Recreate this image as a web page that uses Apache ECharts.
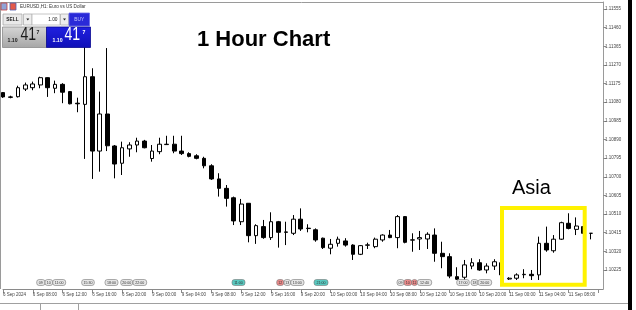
<!DOCTYPE html>
<html><head><meta charset="utf-8">
<script src="https://cdn.jsdelivr.net/npm/echarts@6/dist/echarts.min.js"></script>
<style>html,body{margin:0;padding:0;background:#fff}#c{width:636px;height:310px}</style>
</head><body><div id="c"></div>
<script>
// hourly trading sessions (day, first hour, last hour); last category left empty (chart shift)
const sessions = [['6 Sep', 4, 23], ['9 Sep', 0, 23], ['10 Sep', 0, 23], ['11 Sep', 0, 12]];
const categories = [];
sessions.forEach(([d, a, b]) => { for (let h = a; h <= b; h++) categories.push(d + ' ' + String(h).padStart(2, '0') + ':00'); });

// [open, close, low, high]
const candles = [
[1.11129,1.11107,1.11102,1.11132],
[1.11107,1.11105,1.11100,1.11113],
[1.11108,1.11154,1.11104,1.11164],
[1.11147,1.11168,1.11137,1.11180],
[1.11154,1.11173,1.11141,1.11185],
[1.11168,1.11205,1.11151,1.11210],
[1.11205,1.11154,1.11107,1.11207],
[1.11151,1.11171,1.11126,1.11190],
[1.11171,1.11131,1.11075,1.11177],
[1.11134,1.11072,1.11069,1.11137],
[1.11075,1.11072,1.11029,1.11103],
[1.11069,1.11210,1.10791,1.11372],
[1.11210,1.10831,1.10689,1.11253],
[1.10831,1.11020,1.10726,1.11134],
[1.11020,1.10858,1.10831,1.11356],
[1.10857,1.10765,1.10692,1.10862],
[1.10769,1.10848,1.10709,1.10879],
[1.10842,1.10862,1.10802,1.10876],
[1.10862,1.10882,1.10825,1.10899],
[1.10882,1.10848,1.10845,1.10888],
[1.10793,1.10831,1.10777,1.10862],
[1.10828,1.10866,1.10815,1.10899],
[1.10864,1.10866,1.10862,1.10909],
[1.10866,1.10831,1.10820,1.10909],
[1.10831,1.10818,1.10811,1.10909],
[1.10818,1.10804,1.10799,1.10825],
[1.10807,1.10794,1.10789,1.10815],
[1.10794,1.10756,1.10743,1.10802],
[1.10756,1.10689,1.10684,1.10764],
[1.10689,1.10641,1.10599,1.10718],
[1.10641,1.10590,1.10548,1.10658],
[1.10593,1.10475,1.10454,1.10599],
[1.10471,1.10561,1.10454,1.10587],
[1.10565,1.10400,1.10366,1.10566],
[1.10400,1.10451,1.10358,1.10458],
[1.10446,1.10390,1.10384,1.10480],
[1.10390,1.10471,1.10378,1.10519],
[1.10471,1.10417,1.10339,1.10475],
[1.10419,1.10417,1.10352,1.10471],
[1.10412,1.10484,1.10403,1.10505],
[1.10484,1.10434,1.10424,1.10539],
[1.10438,1.10436,1.10417,1.10458],
[1.10430,1.10378,1.10369,1.10437],
[1.10387,1.10339,1.10332,1.10390],
[1.10336,1.10356,1.10305,1.10383],
[1.10361,1.10382,1.10344,1.10395],
[1.10373,1.10352,1.10344,1.10387],
[1.10352,1.10305,1.10276,1.10356],
[1.10305,1.10349,1.10301,1.10352],
[1.10351,1.10353,1.10332,1.10364],
[1.10344,1.10382,1.10336,1.10390],
[1.10378,1.10403,1.10369,1.10407],
[1.10403,1.10390,1.10387,1.10429],
[1.10390,1.10497,1.10336,1.10505],
[1.10497,1.10366,1.10361,1.10500],
[1.10377,1.10379,1.10318,1.10412],
[1.10383,1.10390,1.10327,1.10424],
[1.10383,1.10407,1.10332,1.10417],
[1.10403,1.10310,1.10267,1.10437],
[1.10310,1.10293,1.10234,1.10369],
[1.10293,1.10194,1.10183,1.10310],
[1.10191,1.10178,1.10174,1.10239],
[1.10188,1.10251,1.10174,1.10276],
[1.10245,1.10262,1.10229,1.10285],
[1.10262,1.10225,1.10221,1.10280],
[1.10225,1.10245,1.10208,1.10259],
[1.10245,1.10267,1.10225,1.10280],
[1.10262,1.10200,1.10195,1.10266],
[1.10179,1.10183,1.10174,1.10188],
[1.10183,1.10200,1.10174,1.10208],
[1.10201,1.10203,1.10183,1.10229],
[1.10203,1.10196,1.10174,1.10225],
[1.10200,1.10361,1.10174,1.10395],
[1.10361,1.10327,1.10318,1.10446],
[1.10323,1.10382,1.10313,1.10403],
[1.10382,1.10466,1.10378,1.10471],
[1.10463,1.10437,1.10432,1.10514],
[1.10432,1.10449,1.10403,1.10493],
[1.10446,1.10412,1.10408,1.10446],
[1.10412,1.10412,1.10381,1.10412]
];

const xTickLabels = ['6 Sep 2024','6 Sep 08:00','6 Sep 12:00','6 Sep 16:00','6 Sep 20:00',
  '9 Sep 00:00','9 Sep 04:00','9 Sep 08:00','9 Sep 12:00','9 Sep 16:00','9 Sep 20:00',
  '10 Sep 00:00','10 Sep 04:00','10 Sep 08:00','10 Sep 12:00','10 Sep 16:00','10 Sep 20:00',
  '11 Sep 00:00','11 Sep 04:00','11 Sep 08:00'];
const yTickLabels = ['1.11555','1.11460','1.11365','1.11270','1.11175','1.11080','1.10985',
  '1.10890','1.10795','1.10700','1.10605','1.10510','1.10415','1.10320','1.10225'];

const titleText = '1 Hour Chart';
const boxLabel = 'Asia';
const symbolTitle = 'EURUSD,H1: Euro vs US Dollar';
const lotText = '1.00';
const priceBig = '41', pricePrefix = '1.10', pricePip = '7';
const events = [
  ['09','g'],['10','g'],['11:00','g'],['15:30','g'],['18:00','g'],['20:00','g'],['22:00','g'],
  ['11:00','t'],['12','p'],['13','g'],['13:00','g'],['21:00','t'],
  ['09','g'],['10','p'],['11','p'],['12:40','g'],['17:00','g'],['18','g'],['20:00','g']
];

const labelMap = {};
xTickLabels.forEach((l, i) => { labelMap[categories[i * 4]] = l; });

const FONT = 'Liberation Sans, Arial, sans-serif';
const chart = echarts.init(document.getElementById('c'), null, {renderer: 'canvas'});

// layout for event markers (pixel x, width)
const evPos = [[36.7,8.3],[45,7.7],[52.7,13],[81.7,12.6],[105,13],[120.7,12],[133,13.7],
  [232,13],[276.7,7],[284,6.7],[290.7,13.3],[314,14],
  [397,7],[404,7.7],[411.7,5.6],[417.3,14.4],[456.7,12.6],[471,7],[478,13.7]];
const evFill = {g:'#e6e6e6', t:'#59c9c0', p:'#ec8a8a'};

const graphics = [];
// frame lines
graphics.push({type:'line', z:50, shape:{x1:0, y1:2.5, x2:603, y2:2.5}, style:{stroke:'#9a9a9a', lineWidth:1}});
graphics.push({type:'line', z:50, shape:{x1:0.5, y1:2.5, x2:0.5, y2:289}, style:{stroke:'#9a9a9a', lineWidth:1}});
graphics.push({type:'line', z:50, shape:{x1:597, y1:289.5, x2:603.5, y2:289.5}, style:{stroke:'#8a8a8a', lineWidth:1}});
graphics.push({type:'line', z:50, shape:{x1:0, y1:303.5, x2:628, y2:303.5}, style:{stroke:'#a0a0a0', lineWidth:1}});
graphics.push({type:'line', z:50, shape:{x1:40.5, y1:303.5, x2:40.5, y2:310}, style:{stroke:'#a0a0a0', lineWidth:1}});
graphics.push({type:'line', z:50, shape:{x1:78.5, y1:303.5, x2:78.5, y2:310}, style:{stroke:'#a0a0a0', lineWidth:1}});
graphics.push({type:'rect', z:50, shape:{x:628, y:0, width:4, height:310}, style:{fill:'#000'}});

// event markers
events.forEach((e, i) => {
  const [x, w] = evPos[i];
  graphics.push({type:'rect', z:60, shape:{x:x, y:279.5, width:w, height:6, r:2.5},
    style:{fill:evFill[e[1]], stroke:'#777', lineWidth:0.6}});
  graphics.push({type:'text', z:61, x:x + w / 2, y:282.6,
    style:{text:e[0], font:'3.6px ' + FONT, fill:'#333', align:'center', textAlign:'center', verticalAlign:'middle', textVerticalAlign:'middle'}});
});

// trading panel
graphics.push({type:'rect', z:80, shape:{x:1, y:3, width:6, height:7}, style:{fill:'#8fa3d6', stroke:'#c04040', lineWidth:0.8}});
graphics.push({type:'rect', z:80, shape:{x:10, y:3, width:6, height:7}, style:{fill:'#e45a4a', stroke:'#5060b0', lineWidth:0.8}});
graphics.push({type:'text', z:80, x:20, y:7,
  style:{text:symbolTitle, font:'4.6px ' + FONT, fill:'#333', verticalAlign:'middle', textVerticalAlign:'middle'}});
graphics.push({type:'rect', z:80, shape:{x:3, y:14, width:19, height:11},
  style:{fill:'#e9e9e9', stroke:'#a8a8a8', lineWidth:0.8}});
graphics.push({type:'text', z:81, x:12.5, y:19.8,
  style:{text:'SELL', font:'bold 4.8px ' + FONT, fill:'#222', align:'center', textAlign:'center', verticalAlign:'middle', textVerticalAlign:'middle'}});
graphics.push({type:'rect', z:80, shape:{x:23.5, y:14, width:8.5, height:11},
  style:{fill:'#eeeeee', stroke:'#b0b0b0', lineWidth:0.8}});
graphics.push({type:'polygon', z:81, shape:{points:[[26.3,18.5],[29.3,18.5],[27.8,20.5]]}, style:{fill:'#222'}});
graphics.push({type:'rect', z:80, shape:{x:32, y:14, width:28, height:11},
  style:{fill:'#ffffff', stroke:'#b8b8b8', lineWidth:0.8}});
graphics.push({type:'text', z:81, x:57.5, y:19.8,
  style:{text:lotText, font:'4.8px ' + FONT, fill:'#222', align:'right', textAlign:'right', verticalAlign:'middle', textVerticalAlign:'middle'}});
graphics.push({type:'rect', z:80, shape:{x:60.5, y:14, width:8, height:11},
  style:{fill:'#eeeeee', stroke:'#b0b0b0', lineWidth:0.8}});
graphics.push({type:'polygon', z:81, shape:{points:[[63,18.5],[66,18.5],[64.5,20.5]]}, style:{fill:'#222'}});
graphics.push({type:'rect', z:80, shape:{x:69, y:13, width:20.5, height:13},
  style:{fill:'#2a2ad8', stroke:'#6a6ae8', lineWidth:0.8}});
graphics.push({type:'text', z:81, x:79.2, y:19.6,
  style:{text:'BUY', font:'4.8px ' + FONT, fill:'#c8c8ff', align:'center', textAlign:'center', verticalAlign:'middle', textVerticalAlign:'middle'}});
graphics.push({type:'rect', z:80, shape:{x:2.5, y:27, width:44, height:20.5},
  style:{fill:new echarts.graphic.LinearGradient(0,0,0,1,[{offset:0,color:'#d6d6d6'},{offset:1,color:'#a6a6a6'}]), stroke:'#8c8c8c', lineWidth:0.8}});
graphics.push({type:'rect', z:80, shape:{x:46.5, y:27, width:44, height:20.5},
  style:{fill:new echarts.graphic.LinearGradient(0,0,0,1,[{offset:0,color:'#2020e0'},{offset:1,color:'#1010b8'}]), stroke:'#0a0a90', lineWidth:0.8}});
[[7.5, 20.5, 36.5, '#1a1a1a'], [52.5, 64.5, 82.5, '#ffffff']].forEach(([xa, xb, xc, col]) => {
  graphics.push({type:'text', z:82, x:xa, y:43.3,
    style:{text:pricePrefix, font:'bold 5.2px ' + FONT, fill:col, verticalAlign:'bottom', textVerticalAlign:'bottom'}});
  graphics.push({type:'text', z:82, x:xb, y:44, scaleX:0.74,
    style:{text:priceBig, font:'19px ' + FONT, fill:col, verticalAlign:'bottom', textVerticalAlign:'bottom'}});
  graphics.push({type:'text', z:82, x:xc, y:33,
    style:{text:pricePip, font:'bold 5.2px ' + FONT, fill:col, verticalAlign:'middle', textVerticalAlign:'middle'}});
});

// annotations
graphics.push({type:'text', z:90, x:197, y:40,
  style:{text:titleText, font:'bold 22px ' + FONT, fill:'#000', verticalAlign:'middle', textVerticalAlign:'middle'}});
graphics.push({type:'text', z:90, x:512, y:198.5,
  style:{text:boxLabel, font:'20px ' + FONT, fill:'#000', verticalAlign:'bottom', textVerticalAlign:'bottom'}});
graphics.push({type:'rect', z:90, shape:{x:502, y:208, width:82.7, height:76.7},
  style:{fill:'none', stroke:'#fff200', lineWidth:4}});

chart.setOption({
  animation: false,
  backgroundColor: '#ffffff',
  grid: {left: 1, top: 2, width: 597.5, height: 287},
  xAxis: {
    type: 'category', data: categories, boundaryGap: false,
    axisLine: {show: true, lineStyle: {color: '#8a8a8a', width: 1}},
    axisTick: {show: true, length: 4, interval: (i) => i % 4 === 0, lineStyle: {color: '#8a8a8a'}},
    axisLabel: {show: true, interval: (i) => i % 4 === 0, formatter: (v) => labelMap[v] || '',
      fontSize: 4.5, fontFamily: FONT, color: '#444', align: 'left', margin: 3},
    splitLine: {show: false}
  },
  yAxis: {
    type: 'value', position: 'right', offset: 4.5,
    min: 1.101281, max: 1.115907,
    axisLine: {show: true, lineStyle: {color: '#9a9a9a', width: 1}},
    axisTick: {show: true, length: 3, customValues: yTickLabels.map(Number), lineStyle: {color: '#8a8a8a'}},
    axisLabel: {show: true, customValues: yTickLabels.map(Number), formatter: (v) => v.toFixed(5),
      fontSize: 4.5, fontFamily: FONT, color: '#444', margin: 2},
    splitLine: {show: false}
  },
  series: [{
    type: 'candlestick', data: candles, barWidth: 4.2, clip: false,
    itemStyle: {color: '#ffffff', color0: '#000000', borderColor: '#000000', borderColor0: '#000000',
      borderColorDoji: '#000000', borderWidth: 1}
  }],
  graphic: graphics
});
</script></body></html>
